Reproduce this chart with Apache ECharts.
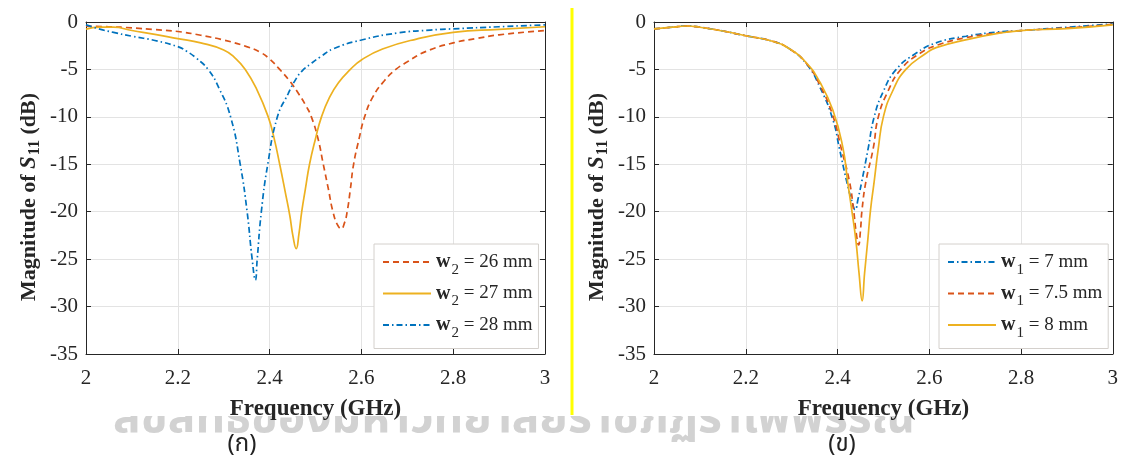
<!DOCTYPE html>
<html><head><meta charset="utf-8">
<script src="https://cdn.jsdelivr.net/npm/echarts@6/dist/echarts.min.js"></script>
<style>html,body{margin:0;padding:0;background:#fff}#c{width:1121px;height:459px}</style>
</head><body><div id="c"></div>
<script>
// ---------- tick labels ----------
const xTickValues = [2, 2.2, 2.4, 2.6, 2.8, 3];
const yTickValues = [0, -5, -10, -15, -20, -25, -30, -35];

// ---------- left panel (ก): varying w2 ----------
const freqW2_26 = [2.00,2.05,2.10,2.15,2.20,2.25,2.30,2.35,2.38,2.40,2.422,2.445,2.465,2.48,2.491,2.505,2.517,2.528,2.538,2.548,2.556,2.563,2.569,2.576,2.583,2.595,2.607,2.625,2.65,2.675,2.70,2.741,2.80,2.85,2.90,3.00];
const s11W2_26  = [-0.45,-0.5,-0.62,-0.8,-1.0,-1.4,-1.9,-2.6,-3.2,-3.9,-5.0,-6.3,-7.7,-8.9,-10.0,-12.2,-15.0,-17.6,-20.0,-21.4,-21.8,-21.2,-20.0,-17.6,-15.0,-12.3,-10.0,-7.9,-6.2,-5.0,-4.2,-3.1,-2.2,-1.75,-1.35,-0.9];

const freqW2_27 = [2.00,2.03,2.06,2.10,2.15,2.20,2.25,2.30,2.325,2.347,2.372,2.397,2.41,2.422,2.434,2.444,2.451,2.458,2.464,2.470,2.478,2.487,2.50,2.513,2.53,2.55,2.576,2.60,2.646,2.72,2.80,2.90,3.00];
const s11W2_27  = [-0.75,-0.55,-0.55,-0.9,-1.3,-1.75,-2.2,-2.95,-3.8,-5.0,-7.1,-10.0,-12.3,-15.0,-17.9,-20.4,-22.6,-23.9,-22.3,-20.0,-17.6,-15.0,-12.3,-10.0,-8.0,-6.4,-5.0,-4.0,-2.85,-1.8,-1.1,-0.77,-0.5];

const freqW2_28 = [2.00,2.03,2.06,2.10,2.15,2.20,2.22,2.24,2.266,2.29,2.315,2.336,2.351,2.362,2.369,2.373,2.382,2.396,2.417,2.44,2.455,2.47,2.49,2.51,2.54,2.60,2.68,2.75,2.80,2.90,3.00];
const s11W2_28  = [-0.3,-0.75,-1.1,-1.5,-1.95,-2.6,-3.1,-3.8,-5.0,-7.0,-10.0,-15.0,-20.0,-25.0,-27.2,-25.0,-20.0,-15.0,-10.0,-7.6,-6.2,-5.2,-4.4,-3.7,-2.8,-1.9,-1.15,-0.85,-0.72,-0.5,-0.3];

// ---------- right panel (ข): varying w1 ----------
const freqW1_7 = [2.00,2.04,2.07,2.10,2.15,2.20,2.26,2.296,2.332,2.361,2.39,2.404,2.42,2.432,2.4385,2.445,2.453,2.467,2.48,2.50,2.528,2.571,2.615,2.68,2.75,2.80,2.90,3.00];
const s11W1_7  = [-0.73,-0.55,-0.42,-0.55,-0.95,-1.45,-2.05,-2.85,-4.4,-6.8,-10.3,-13.3,-16.8,-19.0,-19.8,-18.6,-16.8,-13.3,-10.0,-7.3,-5.0,-3.3,-2.2,-1.5,-1.05,-0.9,-0.56,-0.2];

const freqW1_75 = [2.00,2.04,2.07,2.10,2.15,2.20,2.26,2.296,2.332,2.361,2.39,2.408,2.426,2.435,2.441,2.446,2.45,2.4535,2.462,2.478,2.489,2.51,2.538,2.58,2.62,2.68,2.75,2.80,2.90,3.00];
const s11W1_75  = [-0.73,-0.55,-0.42,-0.55,-0.95,-1.45,-2.05,-2.85,-4.35,-6.6,-9.9,-13.3,-16.8,-19.8,-22.3,-23.5,-22.0,-19.8,-16.8,-13.3,-10.0,-7.3,-5.0,-3.3,-2.4,-1.65,-1.15,-0.9,-0.62,-0.25];

const freqW1_8 = [2.00,2.04,2.07,2.10,2.15,2.20,2.26,2.296,2.332,2.361,2.39,2.412,2.422,2.431,2.44,2.447,2.4537,2.459,2.466,2.472,2.480,2.489,2.50,2.52,2.549,2.593,2.615,2.687,2.75,2.80,2.90,3.00];
const s11W1_8  = [-0.73,-0.55,-0.42,-0.55,-0.95,-1.45,-2.05,-2.85,-4.3,-6.3,-9.3,-13.3,-16.8,-19.8,-23.0,-26.5,-29.4,-26.5,-23.0,-19.8,-16.8,-13.3,-10.0,-7.3,-5.0,-3.3,-2.7,-1.8,-1.2,-0.9,-0.7,-0.3];

// ---------- labels ----------
const legendLeft  = [['26 mm','2'],['27 mm','2'],['28 mm','2']];
const legendRight = [['7 mm','1'],['7.5 mm','1'],['8 mm','1']];
const captions = ['(ก)', '(ข)'];
const watermarkText = 'ลิขสิทธิ์ของมหาวิทยาลัยราชภัฏรำไพพรรณี';

const pair = (xs, ys) => xs.map((x, i) => [x, ys[i]]);

const C_BLUE = '#0072BD', C_RED = '#D95319', C_YEL = '#EDB120';
const DASH = [6, 4];
const DASHDOT = [6, 3, 1.5, 3];
const SERIF = 'Liberation Serif';
const AXC = '#262626';

const grids = [
  {left: 86, top: 22, width: 459, height: 332},
  {left: 654, top: 22, width: 459, height: 332}
];

function xAx(gi, pos) {
  const main = pos === 'bottom';
  return {
    type: 'value', gridIndex: gi, position: pos, min: 2, max: 3, interval: 0.2,
    axisLine: {show: true, onZero: false, lineStyle: {color: AXC, width: 1}},
    axisTick: {show: true, inside: true, length: 5, lineStyle: {color: AXC}},
    axisLabel: {show: main, color: AXC, fontFamily: SERIF, fontSize: 21, margin: 14,
      formatter: v => xTickValues.includes(+v.toFixed(1)) ? String(+v.toFixed(1)) : ''},
    splitLine: {show: main, lineStyle: {color: '#e3e3e3', width: 1}},
    name: main ? 'Frequency (GHz)' : '', nameLocation: 'middle', nameGap: 44,
    nameTextStyle: {fontFamily: SERIF, fontWeight: 'bold', fontSize: 23, color: AXC}
  };
}
function yAx(gi, pos) {
  const main = pos === 'left';
  return {
    type: 'value', gridIndex: gi, position: pos, min: -35, max: 0, interval: 5,
    axisLine: {show: true, onZero: false, lineStyle: {color: AXC, width: 1}},
    axisTick: {show: true, inside: true, length: 5, lineStyle: {color: AXC}},
    axisLabel: {show: main, color: AXC, fontFamily: SERIF, fontSize: 21, margin: 8,
      formatter: v => yTickValues.includes(v) ? String(v) : ''},
    splitLine: {show: main, lineStyle: {color: '#e3e3e3', width: 1}},
    name: main ? '{n|Magnitude of }{i|S}{s|11}{n| (dB)}' : '', nameLocation: 'middle', nameGap: 43, nameRotate: 90,
    nameTextStyle: {fontFamily: SERIF, fontWeight: 'bold', fontSize: 22, color: AXC, padding: [0, 18, 0, 0],
      rich: {
        n: {fontFamily: SERIF, fontWeight: 'bold', fontSize: 22, color: AXC},
        i: {fontFamily: SERIF, fontWeight: 'bold', fontStyle: 'italic', fontSize: 23, color: AXC},
        s: {fontFamily: SERIF, fontWeight: 'bold', fontSize: 16, color: AXC, padding: [12, 0, 0, 1]}
      }}
  };
}

function line(name, data, xi, yi, color, type) {
  return {
    name, type: 'line', xAxisIndex: xi, yAxisIndex: yi, data, showSymbol: false, symbol: 'none',
    smooth: 0.5,
    lineStyle: {color, width: 1.7, type}, itemStyle: {color}, z: 3
  };
}

const lNames = legendLeft.map(l => 'w2 = ' + l[0]);
const rNames = legendRight.map(l => 'w1 = ' + l[0]);

const legendRich = {
  b: {fontFamily: SERIF, fontWeight: 'bold', fontSize: 20, color: AXC},
  s: {fontFamily: SERIF, fontSize: 15, color: AXC, padding: [16, 0, 0, 1]},
  t: {fontFamily: SERIF, fontSize: 19, color: AXC}
};
function legendFmt(name) {
  const sub = name.charAt(1);
  return '{b|w}{s|' + sub + '}{t| ' + name.slice(3) + '}';
}
function legend(names, left) {
  return {
    data: names, orient: 'vertical', left, top: 244,
    padding: [8, 6, 8, 8], itemGap: 6, itemWidth: 48, itemHeight: 14,
    backgroundColor: '#fff', borderColor: '#d4d0cc', borderWidth: 1, borderRadius: 0,
    itemStyle: {opacity: 0},
    formatter: legendFmt, textStyle: {rich: legendRich, fontSize: 19},
    selectedMode: false
  };
}

const option = {
  animation: false,
  backgroundColor: '#fff',
  grid: grids,
  xAxis: [xAx(0, 'bottom'), xAx(0, 'top'), xAx(1, 'bottom'), xAx(1, 'top')],
  yAxis: [yAx(0, 'left'), yAx(0, 'right'), yAx(1, 'left'), yAx(1, 'right')],
  legend: [legend(lNames, 374), legend(rNames, 939)],
  series: [
    line(lNames[0], pair(freqW2_26, s11W2_26), 0, 0, C_RED, DASH),
    line(lNames[1], pair(freqW2_27, s11W2_27), 0, 0, C_YEL, 'solid'),
    line(lNames[2], pair(freqW2_28, s11W2_28), 0, 0, C_BLUE, DASHDOT),
    line(rNames[0], pair(freqW1_7, s11W1_7), 2, 2, C_BLUE, DASHDOT),
    line(rNames[1], pair(freqW1_75, s11W1_75), 2, 2, C_RED, DASH),
    line(rNames[2], pair(freqW1_8, s11W1_8), 2, 2, C_YEL, 'solid')
  ],
  graphic: [
    {type: 'text', left: 113, top: 400, z: -10, silent: true,
      style: {text: watermarkText, font: 'bold 46px "Noto Sans Thai", "Noto Sans", sans-serif', fill: '#d2d2d2'}},
    {type: 'rect', left: 0, top: 0, z: -5, silent: true, shape: {width: 1121, height: 416}, style: {fill: '#fff'}},
    {type: 'line', z: 10, silent: true, shape: {x1: 572, y1: 8, x2: 572, y2: 415}, style: {stroke: '#ffff00', lineWidth: 3}},
    {type: 'text', x: 242, y: 446, z: 10, style: {text: captions[0], font: '24px "Noto Sans Thai", "Noto Sans", sans-serif', fill: '#222', align: 'center', verticalAlign: 'middle'}},
    {type: 'text', x: 842, y: 446, z: 10, style: {text: captions[1], font: '24px "Noto Sans Thai", "Noto Sans", sans-serif', fill: '#222', align: 'center', verticalAlign: 'middle'}}
  ]
};
const chart = echarts.init(document.getElementById('c'), null, {renderer: 'canvas'});
chart.setOption(option);
</script></body></html>
